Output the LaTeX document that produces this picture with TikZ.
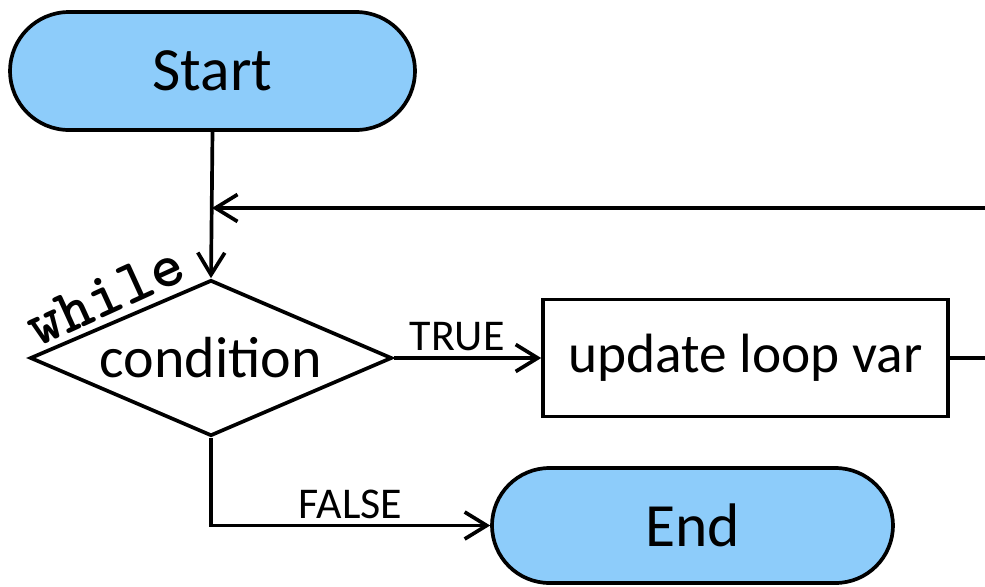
\documentclass[tikz,border=0pt]{standalone}
\usepackage{fontspec}
\setmainfont{Carlito}
\usetikzlibrary{shapes.misc,shapes.geometric,arrows.meta}
\definecolor{termblue}{RGB}{141,204,250}
\begin{document}
\begin{tikzpicture}[x=0.02cm,y=-0.02cm,
  line width=2.1pt,
  term/.style={rounded rectangle, draw, fill=termblue, minimum width=8.1cm, minimum height=2.36cm, font=\fontsize{35}{40}\selectfont, inner sep=0pt},
  cond/.style={diamond, draw, fill=white, aspect=2.32, minimum width=7.24cm, minimum height=3.12cm, inner sep=0pt, font=\fontsize{33}{40}\selectfont},
  proc/.style={rectangle, draw, fill=white, minimum width=8.1cm, minimum height=2.34cm, inner sep=0pt, font=\fontsize{31.5}{38}\selectfont},
  lbl/.style={font=\fontsize{25}{30}\selectfont, inner sep=3pt},
  kw/.style={font=\ttfamily\bfseries\fontsize{36}{40}\selectfont, inner sep=0pt},
  flow/.style={-{Straight Barb[length=0.44cm,width=0.54cm,line width=2.1pt]}},
]
\useasboundingbox (0,0) rectangle (985,586);
\node[term] (start) at (212.5,71) {Start};
\node[cond] (cond) at (211,358) {condition};
\node[proc] (proc) at (745.5,358) {update loop var};
\node[term, minimum width=8.02cm, minimum height=2.3cm] (end) at (692.5,525.5) {End};
\node[kw, rotate=24.5] (while) at (105,296) {while};
\coordinate (J) at (212,208);
\coordinate (R1) at (986,358);
\coordinate (R2) at (986,208);
\draw[flow] (start.south) -- (cond.north);
\draw (proc.east) -- (R1);
\draw[flow] (R2) -- (J);
\draw[flow] (cond.east) -- node[lbl, above, pos=0.43] {TRUE} (proc.west);
\draw[flow] (cond.south) |- node[lbl, above, pos=0.75] {FALSE} (end.west);
\end{tikzpicture}
\end{document}
